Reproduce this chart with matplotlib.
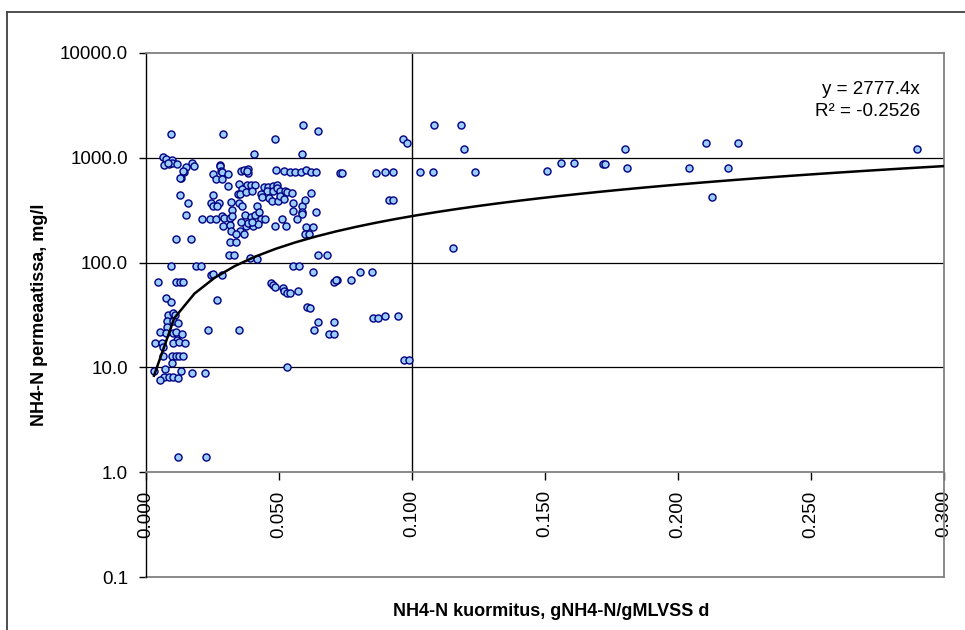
import matplotlib
matplotlib.use("Agg")
import matplotlib.pyplot as plt
from matplotlib.lines import Line2D
from matplotlib.ticker import FixedLocator, NullLocator, FuncFormatter
import numpy as np

plt.rcParams['font.family'] = ['Liberation Sans', 'DejaVu Sans']

# NH4-N loading (gNH4-N/gMLVSS d) and NH4-N in permeate (mg/l)
load = [
    0.0590, 0.0647, 0.0094, 0.0289, 0.0485, 0.0406, 0.0586, 0.0064, 0.0075, 0.0098,
    0.0068, 0.0086, 0.0098, 0.0117, 0.0083, 0.0150, 0.0173, 0.0180, 0.0143, 0.0139,
    0.0132, 0.0128, 0.0278, 0.0278, 0.0282, 0.0252, 0.0286, 0.0308, 0.0263, 0.0286,
    0.0357, 0.0368, 0.0383, 0.0383, 0.0380, 0.0489, 0.0519, 0.0541, 0.0560, 0.0583,
    0.0602, 0.0620, 0.0639, 0.0729, 0.0308, 0.0350, 0.0380, 0.0395, 0.0410, 0.0361,
    0.0346, 0.0353, 0.0376, 0.0398, 0.0444, 0.0459, 0.0477, 0.0492, 0.0455, 0.0477,
    0.0492, 0.0504, 0.0523, 0.0530, 0.0549, 0.0252, 0.0432, 0.0436, 0.0462, 0.0474,
    0.0496, 0.0504, 0.0519, 0.0620, 0.0128, 0.0158, 0.0244, 0.0252, 0.0274, 0.0267,
    0.0320, 0.0323, 0.0350, 0.0361, 0.0417, 0.0553, 0.0586, 0.0598, 0.0553, 0.0586,
    0.0639, 0.0586, 0.0150, 0.0211, 0.0241, 0.0263, 0.0286, 0.0293, 0.0316, 0.0323,
    0.0372, 0.0395, 0.0410, 0.0425, 0.0432, 0.0447, 0.0289, 0.0316, 0.0376, 0.0402,
    0.0421, 0.0383, 0.0357, 0.0398, 0.0568, 0.0511, 0.0485, 0.0526, 0.0602, 0.0628,
    0.0598, 0.0613, 0.0320, 0.0353, 0.0338, 0.0368, 0.0113, 0.0169, 0.0316, 0.0338,
    0.0312, 0.0331, 0.0391, 0.0417, 0.0647, 0.0680, 0.0094, 0.0188, 0.0207, 0.0553,
    0.0575, 0.0628, 0.0244, 0.0252, 0.0286, 0.0045, 0.0113, 0.0128, 0.0139, 0.0470,
    0.0477, 0.0485, 0.0515, 0.0519, 0.0530, 0.0541, 0.0571, 0.0707, 0.0718, 0.0075,
    0.0267, 0.0094, 0.0605, 0.0617, 0.0647, 0.0632, 0.0707, 0.0688, 0.0707, 0.0083,
    0.0102, 0.0109, 0.0079, 0.0102, 0.0120, 0.0079, 0.0053, 0.0075, 0.0102, 0.0113,
    0.0135, 0.0117, 0.0102, 0.0124, 0.0147, 0.0034, 0.0060, 0.0064, 0.0064, 0.0098,
    0.0113, 0.0124, 0.0139, 0.0098, 0.0030, 0.0071, 0.0068, 0.0053, 0.0086, 0.0102,
    0.0120, 0.0132, 0.0173, 0.0222, 0.0233, 0.0350, 0.0530, 0.0120, 0.0226, 0.1083,
    0.1184, 0.0966, 0.0981, 0.1195, 0.0737, 0.0865, 0.0898, 0.0929, 0.1030, 0.1079,
    0.1237, 0.0914, 0.0929, 0.1154, 0.0805, 0.0850, 0.0714, 0.0771, 0.0853, 0.0872,
    0.0898, 0.0947, 0.0970, 0.0989, 0.1508, 0.1560, 0.1609, 0.1718, 0.1726, 0.1801,
    0.1808, 0.2041, 0.2105, 0.2226, 0.2188, 0.2128, 0.2898,
]
conc = [
    2050, 1800, 1680, 1680, 1500, 1080, 1080, 1010, 970, 950,
    850, 870, 890, 870, 890, 810, 890, 830, 730, 745,
    640, 640, 850, 830, 745, 700, 730, 700, 625, 625,
    745, 760, 780, 713, 745, 760, 745, 730, 730, 730,
    760, 730, 730, 713, 536, 560, 548, 548, 548, 500,
    450, 450, 470, 480, 524, 524, 536, 548, 480, 480,
    513, 480, 480, 475, 460, 440, 450, 421, 412, 385,
    385, 430, 403, 460, 440, 370, 370, 345, 370, 345,
    377, 316, 370, 345, 345, 370, 345, 394, 309, 303,
    303, 290, 283, 260, 260, 260, 277, 265, 265, 277,
    283, 271, 283, 303, 260, 260, 222, 227, 222, 222,
    232, 238, 243, 243, 260, 260, 222, 222, 218, 218,
    187, 187, 199, 199, 187, 187, 167, 167, 157, 157,
    118, 118, 110, 108, 118, 118, 92, 92, 92, 92,
    92, 81, 76, 77.5, 76, 65, 65, 65, 65, 63.6,
    60.8, 58, 57, 53, 51, 51, 53, 65, 68, 45.7,
    43.8, 41.9, 37.5, 36.7, 27, 22.6, 27, 20.7, 20.7, 31.5,
    33, 31.5, 27.6, 27.6, 26.4, 24.2, 21.7, 21.2, 21.2, 21.7,
    20.7, 18.2, 17, 17.4, 17, 17, 17, 15.6, 12.8, 12.8,
    12.8, 12.8, 12.8, 11, 9.2, 9.6, 8.1, 7.6, 8.1, 8.1,
    7.9, 9.2, 8.8, 8.8, 22.6, 22.6, 10, 1.4, 1.4, 2050,
    2050, 1500, 1380, 1210, 713, 713, 730, 730, 730, 730,
    730, 394, 394, 137, 81, 81, 68, 68, 29.5, 29.5,
    30.8, 30.8, 11.7, 11.7, 745, 890, 890, 870, 870, 1210,
    796, 796, 1380, 1380, 796, 421, 1210,
]

# Linear trendline through the origin
slope = 2777.4
r_squared = -0.2526
trend_x = np.linspace(0.003, 0.300, 40)

x_ticks = [0.000, 0.050, 0.100, 0.150, 0.200, 0.250, 0.300]
y_ticks = [0.1, 1.0, 10.0, 100.0, 1000.0, 10000.0]
grid_levels = [10.0, 100.0, 1000.0]

W, H = 965, 630
fig = plt.figure(figsize=(W / 100, H / 100), dpi=100)
ax = fig.add_axes([146 / W, 1 - 577 / H, (944 - 146) / W, (577 - 53) / H])

ax.set_yscale('log')
ax.set_xlim(0.0, 0.3)
ax.set_ylim(0.1, 10000)

grey = '#808080'
for lvl in grid_levels:
    ax.axhline(lvl, color='black', lw=0.9, zorder=1)
ax.plot([0.1, 0.1], [1.0, 10000], color='black', lw=1.0, zorder=1)
ax.axhline(0.1, color=grey, lw=1.3, zorder=2, clip_on=False)

for side in ('top', 'right'):
    ax.spines[side].set_color(grey)
    ax.spines[side].set_linewidth(1.3)
ax.spines['left'].set_color('black')
ax.spines['left'].set_linewidth(1.0)
ax.spines['bottom'].set_position(('data', 1.0))
ax.spines['bottom'].set_color(grey)
ax.spines['bottom'].set_linewidth(1.3)

ax.xaxis.set_major_locator(FixedLocator(x_ticks))
ax.xaxis.set_major_formatter(FuncFormatter(lambda v, p: f'{v:.3f}'))
ax.yaxis.set_major_locator(FixedLocator(y_ticks))
ax.yaxis.set_minor_locator(NullLocator())
ax.yaxis.set_major_formatter(FuncFormatter(lambda v, p: f'{v:.1f}'))

ax.tick_params(axis='x', direction='out', length=6, width=1, color='black',
               labelsize=13.5, pad=7, labelrotation=90)
ax.tick_params(axis='y', direction='out', length=5, width=1, color='black',
               labelsize=13.5, pad=8)

ax.scatter(load, conc, s=26, facecolor='#99ccff', edgecolor='#000080',
           linewidths=1.0, zorder=4, clip_on=False)
ax.plot(trend_x, slope * trend_x, color='black', lw=1.8, zorder=5)

fig.text(920 / W, 1 - 90 / H, f'y = {slope:.1f}x', ha='right', va='center',
         fontsize=13.5)
fig.text(920 / W, 1 - 111 / H, f'R² = {r_squared:.4f}', ha='right', va='center',
         fontsize=13.5)

fig.text(40 / W, 1 - 315 / H, 'NH4-N permeaatissa, mg/l', rotation=90,
         ha='center', va='center', fontsize=13, fontweight='bold')
fig.text(551 / W, 1 - 612 / H, 'NH4-N kuormitus, gNH4-N/gMLVSS d',
         ha='center', va='center', fontsize=13, fontweight='bold')

# chart frame
frame_color = '#404040'
fig.add_artist(Line2D([7 / W, 7 / W], [0, 1 - 12 / H], color=frame_color, lw=1.3))
fig.add_artist(Line2D([7 / W, 1], [1 - 12 / H, 1 - 12 / H], color=frame_color, lw=1.3))

fig.savefig('out.png', dpi=100)
